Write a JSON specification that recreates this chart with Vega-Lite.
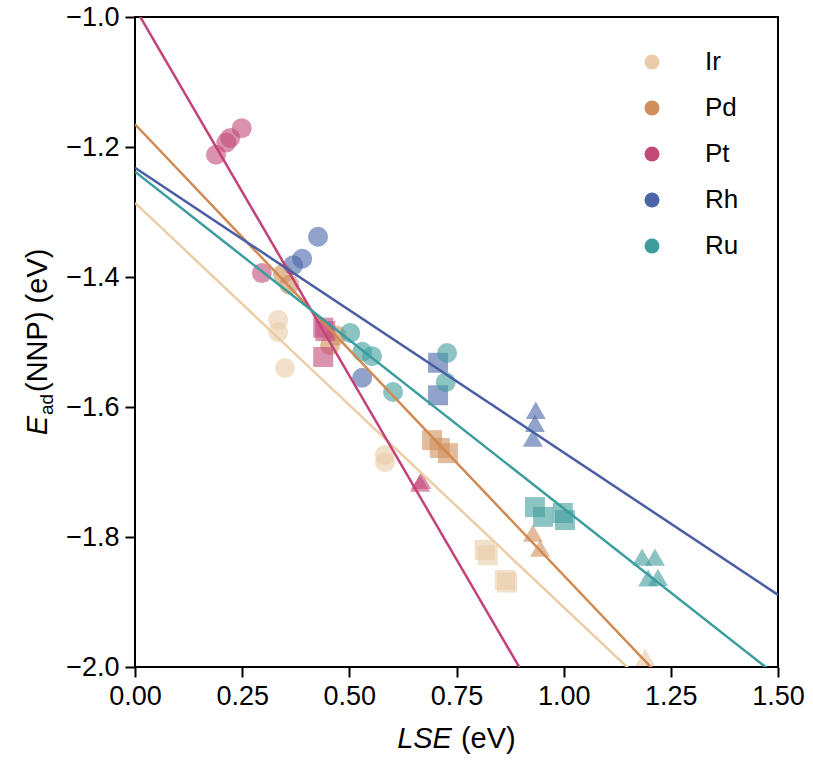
{
  "$schema": "https://vega.github.io/schema/vega-lite/v6.json",
  "width": 643,
  "height": 650,
  "autosize": "none",
  "padding": {"left": 135, "top": 17, "right": 35, "bottom": 93},
  "background": "white",
  "datasets": {
    "points": [
      {"element": "Ir", "set": "S1", "lse": 0.334, "ead": -1.466},
      {"element": "Ir", "set": "S1", "lse": 0.334, "ead": -1.485},
      {"element": "Ir", "set": "S1", "lse": 0.350, "ead": -1.540},
      {"element": "Ir", "set": "S1", "lse": 0.583, "ead": -1.674},
      {"element": "Ir", "set": "S1", "lse": 0.583, "ead": -1.685},
      {"element": "Ir", "set": "S2", "lse": 0.816, "ead": -1.820},
      {"element": "Ir", "set": "S2", "lse": 0.823, "ead": -1.828},
      {"element": "Ir", "set": "S2", "lse": 0.863, "ead": -1.866},
      {"element": "Ir", "set": "S2", "lse": 0.868, "ead": -1.870},
      {"element": "Ir", "set": "S3", "lse": 1.190, "ead": -1.985},
      {"element": "Ir", "set": "S3", "lse": 1.205, "ead": -2.010},
      {"element": "Pd", "set": "S1", "lse": 0.345, "ead": -1.395},
      {"element": "Pd", "set": "S1", "lse": 0.360, "ead": -1.412},
      {"element": "Pd", "set": "S1", "lse": 0.455, "ead": -1.505},
      {"element": "Pd", "set": "S1", "lse": 0.470, "ead": -1.490},
      {"element": "Pd", "set": "S2", "lse": 0.693, "ead": -1.651},
      {"element": "Pd", "set": "S2", "lse": 0.711, "ead": -1.663},
      {"element": "Pd", "set": "S2", "lse": 0.730, "ead": -1.671},
      {"element": "Pd", "set": "S3", "lse": 0.928, "ead": -1.794},
      {"element": "Pd", "set": "S3", "lse": 0.945, "ead": -1.817},
      {"element": "Pt", "set": "S1", "lse": 0.189, "ead": -1.212},
      {"element": "Pt", "set": "S1", "lse": 0.213, "ead": -1.193},
      {"element": "Pt", "set": "S1", "lse": 0.222, "ead": -1.186},
      {"element": "Pt", "set": "S1", "lse": 0.249, "ead": -1.171},
      {"element": "Pt", "set": "S1", "lse": 0.296, "ead": -1.394},
      {"element": "Pt", "set": "S2", "lse": 0.439, "ead": -1.478},
      {"element": "Pt", "set": "S2", "lse": 0.444, "ead": -1.483},
      {"element": "Pt", "set": "S2", "lse": 0.439, "ead": -1.523},
      {"element": "Pt", "set": "S3", "lse": 0.665, "ead": -1.717},
      {"element": "Pt", "set": "S3", "lse": 0.668, "ead": -1.713},
      {"element": "Rh", "set": "S1", "lse": 0.427, "ead": -1.338},
      {"element": "Rh", "set": "S1", "lse": 0.390, "ead": -1.372},
      {"element": "Rh", "set": "S1", "lse": 0.369, "ead": -1.382},
      {"element": "Rh", "set": "S1", "lse": 0.530, "ead": -1.555},
      {"element": "Rh", "set": "S2", "lse": 0.707, "ead": -1.532},
      {"element": "Rh", "set": "S2", "lse": 0.707, "ead": -1.582},
      {"element": "Rh", "set": "S3", "lse": 0.935, "ead": -1.605},
      {"element": "Rh", "set": "S3", "lse": 0.933, "ead": -1.625},
      {"element": "Rh", "set": "S3", "lse": 0.928, "ead": -1.648},
      {"element": "Ru", "set": "S1", "lse": 0.502, "ead": -1.486},
      {"element": "Ru", "set": "S1", "lse": 0.530, "ead": -1.515},
      {"element": "Ru", "set": "S1", "lse": 0.553, "ead": -1.522},
      {"element": "Ru", "set": "S1", "lse": 0.602, "ead": -1.577},
      {"element": "Ru", "set": "S1", "lse": 0.728, "ead": -1.517},
      {"element": "Ru", "set": "S1", "lse": 0.725, "ead": -1.562},
      {"element": "Ru", "set": "S2", "lse": 0.933, "ead": -1.754},
      {"element": "Ru", "set": "S2", "lse": 0.952, "ead": -1.769},
      {"element": "Ru", "set": "S2", "lse": 1.003, "ead": -1.774},
      {"element": "Ru", "set": "S2", "lse": 0.998, "ead": -1.763},
      {"element": "Ru", "set": "S3", "lse": 1.183, "ead": -1.831},
      {"element": "Ru", "set": "S3", "lse": 1.213, "ead": -1.831},
      {"element": "Ru", "set": "S3", "lse": 1.197, "ead": -1.863},
      {"element": "Ru", "set": "S3", "lse": 1.220, "ead": -1.862}
    ],
    "fits": [
      {"element": "Ir", "lse": 0, "ead": -1.286},
      {"element": "Ir", "lse": 1.5, "ead": -2.219},
      {"element": "Pd", "lse": 0, "ead": -1.165},
      {"element": "Pd", "lse": 1.5, "ead": -2.206},
      {"element": "Pt", "lse": 0, "ead": -0.986},
      {"element": "Pt", "lse": 1.5, "ead": -2.683},
      {"element": "Rh", "lse": 0, "ead": -1.232},
      {"element": "Rh", "lse": 1.5, "ead": -1.889},
      {"element": "Ru", "lse": 0, "ead": -1.238},
      {"element": "Ru", "lse": 1.5, "ead": -2.015}
    ]
  },
  "layer": [
    {
      "data": {"name": "points"},
      "mark": {"type": "point", "filled": true, "opacity": 0.6, "size": 400, "clip": true, "strokeWidth": 0},
      "encoding": {
        "x": {"field": "lse", "type": "quantitative", "scale": {"domain": [0, 1.5], "nice": false},
              "axis": {"title": null, "values": [0, 0.25, 0.5, 0.75, 1, 1.25, 1.5], "format": ".2f"}},
        "y": {"field": "ead", "type": "quantitative", "scale": {"domain": [-2, -1], "nice": false},
              "axis": {"title": null, "values": [-2, -1.8, -1.6, -1.4, -1.2, -1], "format": ".1f"}},
        "color": {
          "field": "element", "type": "nominal",
          "scale": {"domain": ["Ir", "Pd", "Pt", "Rh", "Ru"],
                    "range": ["#E9CBA7", "#CF8F5C", "#C34A78", "#4A65A8", "#3F9C9C"]},
          "legend": {"orient": "none", "legendX": 504, "legendY": 32, "title": null, "padding": 0,
                     "symbolType": "circle", "symbolSize": 225, "symbolOpacity": 1, "symbolStrokeWidth": 0,
                     "labelFont": "Liberation Sans", "labelFontSize": 26, "labelColor": "black",
                     "labelOffset": 40, "rowPadding": 20}
        },
        "shape": {
          "field": "set", "type": "nominal",
          "scale": {"domain": ["S1", "S2", "S3"], "range": ["circle", "square", "triangle-up"]},
          "legend": null
        }
      }
    },
    {
      "data": {"name": "fits"},
      "mark": {"type": "line", "strokeWidth": 2.5, "clip": true},
      "encoding": {
        "x": {"field": "lse", "type": "quantitative", "scale": {"domain": [0, 1.5], "nice": false},
              "axis": {"title": null, "values": [0, 0.25, 0.5, 0.75, 1, 1.25, 1.5], "format": ".2f"}},
        "y": {"field": "ead", "type": "quantitative", "scale": {"domain": [-2, -1], "nice": false},
              "axis": {"title": null, "values": [-2, -1.8, -1.6, -1.4, -1.2, -1], "format": ".1f"}},
        "detail": {"field": "element", "type": "nominal"},
        "stroke": {
          "field": "element", "type": "nominal",
          "scale": {"domain": ["Ir", "Pd", "Pt", "Rh", "Ru"],
                    "range": ["#EBCDA6", "#D08A52", "#C4427A", "#4A5EA5", "#3A9D9E"]},
          "legend": null
        }
      }
    },
    {
      "data": {"values": [{"part": "E"}]},
      "mark": {"type": "text", "text": "E", "font": "Liberation Sans", "fontSize": 29, "fontStyle": "italic",
               "angle": 270, "align": "right", "baseline": "alphabetic", "color": "black"},
      "encoding": {
        "x": {"datum": -0.205, "type": "quantitative", "scale": {"domain": [0, 1.5], "nice": false}},
        "y": {"datum": -1.6138, "type": "quantitative", "scale": {"domain": [-2, -1], "nice": false}}
      }
    },
    {
      "data": {"values": [{"part": "ad"}]},
      "mark": {"type": "text", "text": "ad", "font": "Liberation Sans", "fontSize": 19,
               "angle": 270, "align": "left", "baseline": "alphabetic", "color": "black"},
      "encoding": {
        "x": {"datum": -0.1913, "type": "quantitative", "scale": {"domain": [0, 1.5], "nice": false}},
        "y": {"datum": -1.6123, "type": "quantitative", "scale": {"domain": [-2, -1], "nice": false}}
      }
    },
    {
      "data": {"values": [{"part": "rest"}]},
      "mark": {"type": "text", "text": "(NNP) (eV)", "font": "Liberation Sans", "fontSize": 29,
               "angle": 270, "align": "left", "baseline": "alphabetic", "color": "black"},
      "encoding": {
        "x": {"datum": -0.205, "type": "quantitative", "scale": {"domain": [0, 1.5], "nice": false}},
        "y": {"datum": -1.5769, "type": "quantitative", "scale": {"domain": [-2, -1], "nice": false}}
      }
    },
    {
      "data": {"values": [{"part": "LSE"}]},
      "mark": {"type": "text", "text": "LSE", "font": "Liberation Sans", "fontSize": 29, "fontStyle": "italic",
               "align": "right", "baseline": "alphabetic", "color": "black"},
      "encoding": {
        "x": {"datum": 0.7394, "type": "quantitative", "scale": {"domain": [0, 1.5], "nice": false}},
        "y": {"datum": -2.1246, "type": "quantitative", "scale": {"domain": [-2, -1], "nice": false}}
      }
    },
    {
      "data": {"values": [{"part": "unit"}]},
      "mark": {"type": "text", "text": "(eV)", "font": "Liberation Sans", "fontSize": 29,
               "align": "left", "baseline": "alphabetic", "color": "black"},
      "encoding": {
        "x": {"datum": 0.7604, "type": "quantitative", "scale": {"domain": [0, 1.5], "nice": false}},
        "y": {"datum": -2.1246, "type": "quantitative", "scale": {"domain": [-2, -1], "nice": false}}
      }
    }
  ],
  "config": {
    "view": {"stroke": "black", "strokeWidth": 2},
    "axis": {
      "domain": false, "grid": false, "ticks": true, "tickSize": 10, "tickWidth": 2, "tickColor": "black",
      "labelFont": "Liberation Sans", "labelFontSize": 27, "labelColor": "black", "labelPadding": 6,
      "labelFlush": false, "labelOverlap": false
    }
  }
}
